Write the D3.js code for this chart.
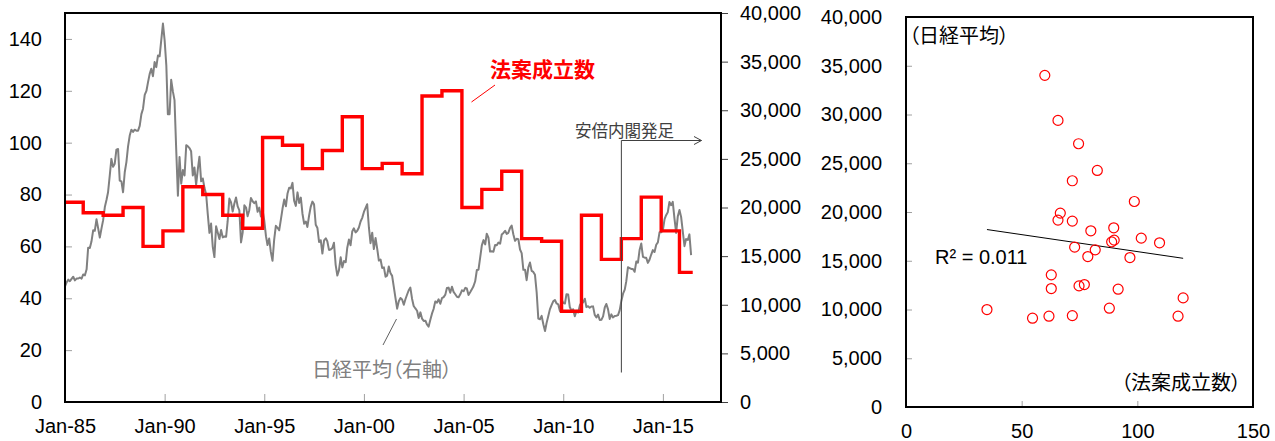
<!DOCTYPE html>
<html><head><meta charset="utf-8">
<script src="https://cdn.jsdelivr.net/npm/d3@7"></script>
<style>
body{margin:0;background:#fff}
text{font-family:"Liberation Sans",Arial,sans-serif}
.jp{font-family:"Noto Sans CJK JP","Noto Sans",sans-serif}
.palt{font-feature-settings:"palt"}
</style>
</head><body>
<svg id="c" width="1275" height="441"></svg>
<script>
// ---------------- data ----------------
// Nikkei average, monthly, from Jan 1985
const nikkeiStartYear = 1985;
const nikkei = [
 11900,12322,12580,12426,12655,12882,12505,12690,12700,12800,12690,13113,
 13024,13641,15860,15826,16500,17654,17600,18787,17852,16910,17853,18701,
 20048,20800,21567,23274,25000,24176,24488,25947,26011,22765,22687,21564,
 23622,24700,26260,27400,28000,27770,28000,27900,27900,28400,29600,30159,
 31581,31985,32839,33713,34266,33500,34954,34431,35636,35549,37268,38916,
 37189,34592,29600,29585,33131,31940,31036,25978,21200,25194,22455,23849,
 23293,26409,26292,26111,25790,23290,24120,22336,23916,25222,22687,22984,
 22023,21339,19346,17391,18348,15952,14900,18061,17399,16767,17684,16925,
 17024,17000,18591,20919,20552,19591,20380,21027,20106,19703,16408,17417,
 20229,19997,19111,19725,20974,20643,20450,20628,19564,19990,19076,19723,
 18650,17053,16140,16807,15437,14517,16678,18117,17913,17655,18744,19868,
 20813,20125,21407,22041,21956,22531,20693,20167,21556,20466,21020,19361,
 18330,18557,18003,19151,20069,20605,20331,18229,17888,16459,16636,15259,
 16628,16831,16527,15641,15670,15830,16379,14108,13000,13564,14883,13842,
 14499,14368,15837,16702,16112,17530,17862,17437,17605,17943,18558,18934,
 19540,19960,20337,17974,16332,17411,15727,16861,15747,14539,14649,13785,
 13843,12883,12999,13934,13262,12969,11860,10713,9600,10366,10697,10543,
 9997,10588,11025,11493,11764,10622,9878,9620,9383,8640,9216,8579,
 8340,8363,7973,7750,8425,9083,9563,10344,10219,10560,10101,10677,
 10784,11041,11715,11762,11236,11859,11326,11082,10824,10771,11073,11489,
 11388,11741,11669,11009,11277,11584,11900,12414,13574,13607,14872,16111,
 16650,16206,17300,16906,15467,15505,15457,16140,16128,16399,16274,17226,
 17383,17604,17288,17400,17876,18138,17249,16569,16786,16737,15681,15308,
 13592,13604,12526,13850,14339,13481,13377,13073,11260,8577,8512,8860,
 7994,7300,8110,8828,9523,9958,10357,10493,10133,10034,9345,10546,
 10198,10126,11090,11057,9769,9383,9537,8824,9369,9202,9937,10229,
 10237,10624,9755,9850,9694,9816,9833,8955,8700,8988,8434,8455,
 8803,9723,10084,9521,8543,9007,8695,8840,8870,8928,9446,10395,
 11139,11559,12398,13861,13775,13677,13668,13389,14456,14328,15662,16291,
 14915,14841,14828,14304,14632,15162,15621,15425,16174,16414,17460,17451,
 17674,18798,19207,19520,20563,20236,20585,18890,17388,19083,19747,19034,
 17518,16027,16759,16666,17235,15100
];
// Number of laws enacted (step series): start month of each step and value
const lawStarts = ["1985-01","1985-12","1986-12","1987-12","1988-12","1989-12","1990-12","1991-12",
 "1992-12","1993-12","1994-12","1995-12","1996-12","1997-12","1998-12","1999-12","2000-12",
 "2001-12","2002-12","2003-12","2004-12","2005-12","2006-12","2007-12","2008-12","2009-12",
 "2010-12","2011-12","2012-12","2013-12","2014-12","2015-11"];
const lawCounts = [77,73,72,75,60,66,83,80,72,67,102,99,90,97,110,90,92,88,118,120,75,82,89,63,62,35,72,55,63,79,66,50];
const lawEnd = "2016-07";
const abeStart = "2012-12";
// Scatter: laws enacted vs Nikkei
const scatterLaws =   [60,65.7,74.6,82.7,71.9,98.7,66.7,65.7,71.9,79.9,89.8,90.0,88.9,101.7,109.6,72.9,81.8,78.6,96.8,62.8,62.8,77.1,74.8,91.7,119.8,35.0,87.9,54.7,61.8,71.9,117.6];
const scatterNikkei = [34014,29394,27002,24260,23203,21078,19887,19168,19066,18070,18378,17112,16940,17320,16838,16396,16119,15431,15329,13552,12146,12557,12423,12084,11191,9993,10134,9107,9312,9374,9312];
// Tick values
const leftTicks = [0,20,40,60,80,100,120,140];
const rightTicks = [0,5000,10000,15000,20000,25000,30000,35000,40000];
const xTickYears = [1985,1990,1995,2000,2005,2010,2015];
const scatterXTicks = [0,50,100,150];
const scatterYTicks = rightTicks;
const r2Text = "R² = 0.011";

// ---------------- drawing ----------------
const svg = d3.select("#c");
const parseM = d3.timeParse("%Y-%m");
const FS = 20;

// Left chart
const L = {l:65, r:721, t:13, b:402};
const x = d3.scaleTime().domain([new Date(1985,0,1), new Date(2017,11,1)]).range([L.l, L.r]);
const yL = d3.scaleLinear().domain([0,150]).range([L.b, L.t]);
const yR = d3.scaleLinear().domain([0,40000]).range([L.b, L.t]);

const gL = svg.append("g");

// Nikkei line
const nk = nikkei.map((v,i)=>({d:new Date(nikkeiStartYear, i, 1), v}));
gL.append("path").datum(nk)
  .attr("fill","none").attr("stroke","#808080").attr("stroke-width",2).attr("stroke-linejoin","round")
  .attr("d", d3.line().x(d=>x(d.d)).y(d=>yR(d.v)));

// Law step line
const steps = lawStarts.map((s,i)=>({d:parseM(s), v:lawCounts[i]}));
steps.push({d:parseM(lawEnd), v:lawCounts[lawCounts.length-1]});
gL.append("path").datum(steps)
  .attr("fill","none").attr("stroke","#ff0000").attr("stroke-width",3.4).attr("stroke-linejoin","miter")
  .attr("d", d3.line().curve(d3.curveStepAfter).x(d=>x(d.d)).y(d=>yL(d.v)));

// Axes
const axL = d3.axisLeft(yL).tickValues(leftTicks).tickSizeInner(-7).tickSizeOuter(0).tickPadding(23);
const axR = d3.axisRight(yR).tickValues(rightTicks).tickSizeInner(7).tickSizeOuter(0).tickPadding(12).tickFormat(d3.format(","));
const axB = d3.axisBottom(x).tickValues(xTickYears.map(y=>new Date(y,0,1))).tickSizeInner(-8).tickSizeOuter(0).tickPadding(17).tickFormat(d3.timeFormat("%b-%y"));

function styleAxis(g, tickColor){
  g.select(".domain").remove();
  g.selectAll(".tick line").attr("stroke", tickColor).attr("stroke-width",1);
  g.selectAll(".tick text").attr("font-size",FS).attr("fill","#000").attr("font-family","Liberation Sans, Arial, sans-serif");
}
gL.append("g").attr("transform",`translate(${L.l},0)`).call(axL).call(g=>styleAxis(g,"#a0a0a0"));
gL.append("g").attr("transform",`translate(${L.r},0)`).call(axR).call(g=>styleAxis(g,"#404040"));
gL.append("g").attr("transform",`translate(0,${L.b})`).call(axB).call(g=>styleAxis(g,"#a0a0a0"));

// Frame
gL.append("rect").attr("x",L.l).attr("y",L.t).attr("width",L.r-L.l).attr("height",L.b-L.t)
  .attr("fill","none").attr("stroke","#000").attr("stroke-width",2);

// Annotations
gL.append("text").attr("class","jp").attr("x",490).attr("y",68).attr("dominant-baseline","central")
  .attr("font-size",21).attr("font-weight","bold").attr("fill","#ff0000").text("法案成立数");
gL.append("line").attr("x1",495).attr("y1",85).attr("x2",471.5).attr("y2",102).attr("stroke","#ff0000").attr("stroke-width",1);

gL.append("text").attr("class","jp palt").attr("x",312).attr("y",368).attr("dominant-baseline","central")
  .attr("font-size",FS).attr("fill","#808080").text("日経平均（右軸）");
gL.append("line").attr("x1",396.5).attr("y1",319).attr("x2",383).attr("y2",345).attr("stroke","#606060").attr("stroke-width",1);

const xa = x(parseM(abeStart));
gL.append("text").attr("class","jp").attr("x",575).attr("y",130).attr("dominant-baseline","central")
  .attr("font-size",16.5).attr("fill","#404040").text("安倍内閣発足");
gL.append("path").attr("d",`M${xa},372.5 V140.5 H701.5`).attr("fill","none").attr("stroke","#404040").attr("stroke-width",1);
gL.append("path").attr("d",`M694,136.5 L701.5,140.5 L694,144.5`).attr("fill","none").attr("stroke","#404040").attr("stroke-width",1);

// Scatter chart
const S = {l:906, r:1253, t:17, b:407};
const xs = d3.scaleLinear().domain([0,150]).range([S.l, S.r]);
const ys = d3.scaleLinear().domain([0,40000]).range([S.b, S.t]);
const gS = svg.append("g");

gS.append("g").attr("transform",`translate(${S.l},0)`)
  .call(d3.axisLeft(ys).tickValues(scatterYTicks).tickSizeInner(-6).tickSizeOuter(0).tickPadding(24).tickFormat(d3.format(",")))
  .call(g=>styleAxis(g,"#a0a0a0"));
gS.append("g").attr("transform",`translate(0,${S.b})`)
  .call(d3.axisBottom(xs).tickValues(scatterXTicks).tickSizeInner(-6).tickSizeOuter(0).tickPadding(17))
  .call(g=>styleAxis(g,"#a0a0a0"));

gS.append("rect").attr("x",S.l).attr("y",S.t).attr("width",S.r-S.l).attr("height",S.b-S.t)
  .attr("fill","none").attr("stroke","#000").attr("stroke-width",2);

// regression line
const pts = scatterLaws.map((v,i)=>[v, scatterNikkei[i]]);
const mx = d3.mean(pts,d=>d[0]), my = d3.mean(pts,d=>d[1]);
const slope = d3.sum(pts,d=>(d[0]-mx)*(d[1]-my)) / d3.sum(pts,d=>(d[0]-mx)**2);
const icpt = my - slope*mx;
const [x0,x1] = d3.extent(scatterLaws);
gS.append("line").attr("x1",xs(x0)).attr("y1",ys(icpt+slope*x0)).attr("x2",xs(x1)).attr("y2",ys(icpt+slope*x1))
  .attr("stroke","#000").attr("stroke-width",1);

gS.selectAll("circle.p").data(pts).join("circle").attr("class","p")
  .attr("cx",d=>xs(d[0])).attr("cy",d=>ys(d[1])).attr("r",5)
  .attr("fill","none").attr("stroke","#ff0000").attr("stroke-width",1.2);

gS.append("text").attr("x",935).attr("y",264).attr("font-size",FS).attr("fill","#000").text(r2Text);
gS.append("text").attr("class","jp palt").attr("x",909).attr("y",34).attr("dominant-baseline","central")
  .attr("font-size",FS).attr("fill","#000").text("（日経平均）");
gS.append("text").attr("class","jp palt").attr("x",1241).attr("y",381).attr("text-anchor","end").attr("dominant-baseline","central")
  .attr("font-size",FS).attr("fill","#000").text("（法案成立数）");
</script>
</body></html>
